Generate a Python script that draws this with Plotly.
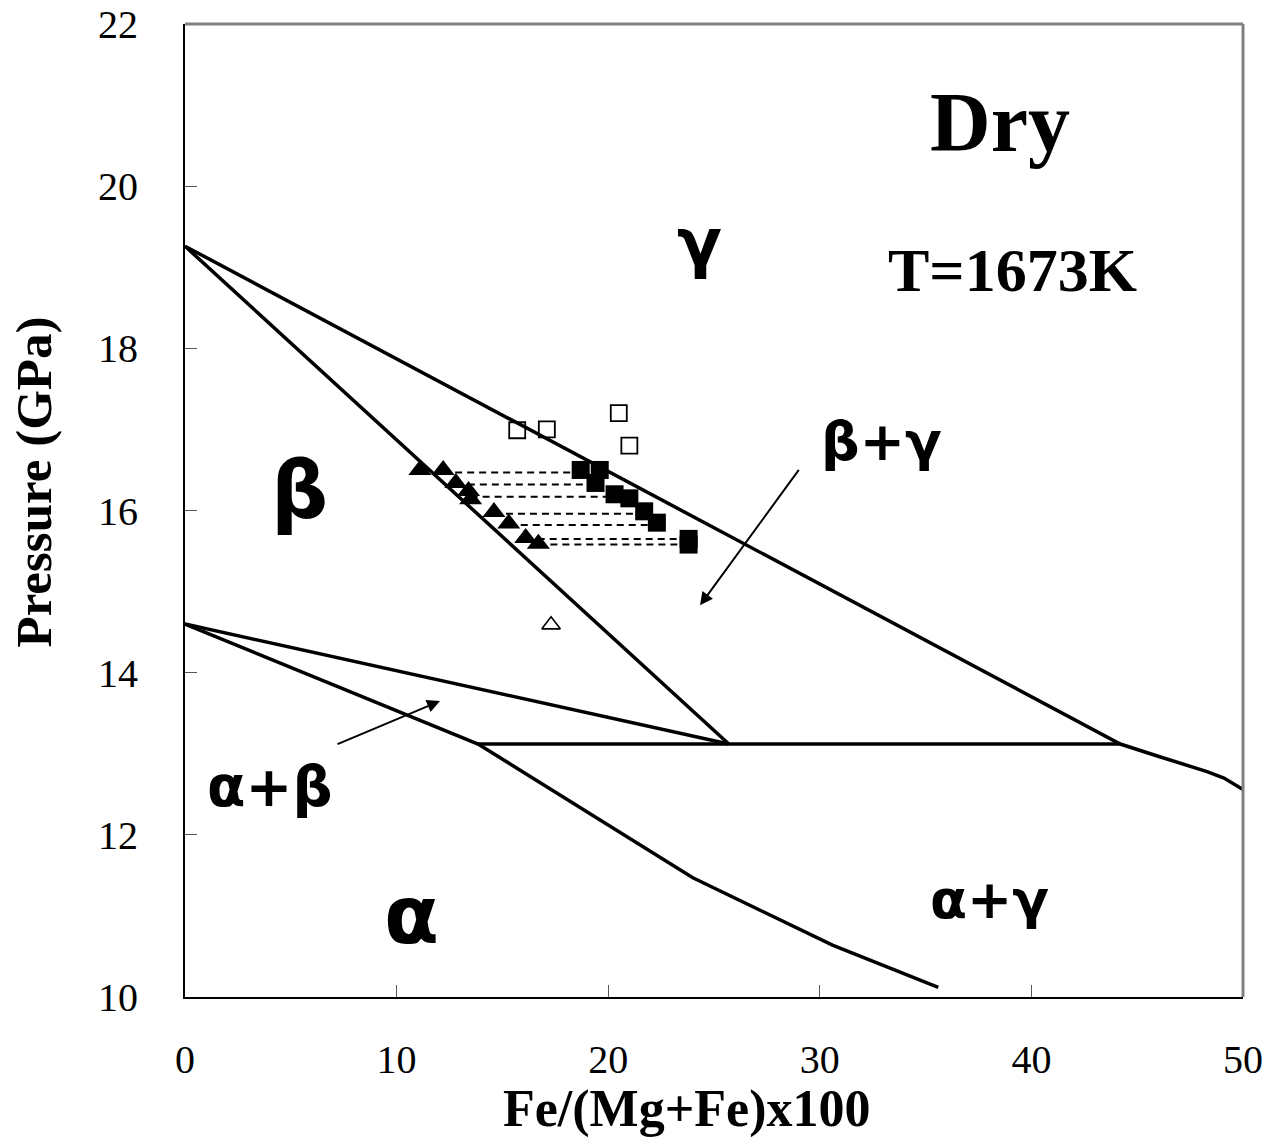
import plotly.graph_objects as go

# ---- data ----
# phase boundaries
gamma_bnd_x = [0, 44.2, 46.1, 48.3, 49.1, 50]
gamma_bnd_y = [19.26, 13.12, 12.96, 12.78, 12.70, 12.56]
beta_bnd_x = [0, 25.7]
beta_bnd_y = [19.26, 13.12]
ab_upper_x = [0, 25.7]
ab_upper_y = [14.6, 13.12]
alpha_bnd_x = [0, 13.85, 24.0, 30.6, 35.6]
alpha_bnd_y = [14.6, 13.12, 11.47, 10.64, 10.12]
invariant_x = [13.85, 44.2]
invariant_y = [13.12, 13.12]

# tie lines
tie_y = [16.47, 16.32, 16.17, 15.96, 15.82, 15.65, 15.58]
tie_tri_x = [12.2, 12.8, 13.5, 14.6, 15.3, 16.1, 16.7]
tie_sq_x = [18.7, 19.4, 20.3, 21.7, 22.3, 23.8, 23.8]

# coexisting beta (filled triangles) and gamma (filled squares)
beta_x = [11.1, 12.2, 12.8, 13.4, 13.5, 14.6, 15.3, 16.1, 16.7]
beta_y = [16.5, 16.5, 16.34, 16.24, 16.14, 15.98, 15.84, 15.66, 15.59]
gamma_x = [18.7, 19.6, 19.4, 20.3, 21.0, 21.7, 22.3, 23.8, 23.8]
gamma_y = [16.5, 16.5, 16.34, 16.2, 16.15, 15.99, 15.85, 15.65, 15.58]

# single-phase runs
gamma_only_x = [15.7, 17.1, 20.5, 21.0]
gamma_only_y = [16.99, 17.0, 17.2, 16.8]
beta_only_x = [17.3]
beta_only_y = [14.59]

x_ticks = [0, 10, 20, 30, 40, 50]
y_ticks = [10, 12, 14, 16, 18, 20, 22]

fig = go.Figure()

line_style = dict(color="black", width=3.5)
for xs, ys in [(gamma_bnd_x, gamma_bnd_y), (beta_bnd_x, beta_bnd_y),
               (ab_upper_x, ab_upper_y), (alpha_bnd_x, alpha_bnd_y),
               (invariant_x, invariant_y)]:
    fig.add_trace(go.Scatter(x=xs, y=ys, mode="lines", line=line_style,
                             showlegend=False, hoverinfo="skip"))

for tx, sx, yy in zip(tie_tri_x, tie_sq_x, tie_y):
    fig.add_trace(go.Scatter(x=[tx, sx], y=[yy, yy], mode="lines",
                             line=dict(color="black", width=2, dash="7px,5px"),
                             showlegend=False, hoverinfo="skip"))

fig.add_trace(go.Scatter(x=beta_x, y=beta_y, mode="markers",
                         marker=dict(symbol="triangle-up", size=20, color="black"),
                         showlegend=False))
fig.add_trace(go.Scatter(x=gamma_x, y=gamma_y, mode="markers",
                         marker=dict(symbol="square", size=18, color="black"),
                         showlegend=False))
fig.add_trace(go.Scatter(x=gamma_only_x, y=gamma_only_y, mode="markers",
                         marker=dict(symbol="square-open", size=16, color="black",
                                     line=dict(width=1.8)),
                         showlegend=False))
fig.add_trace(go.Scatter(x=beta_only_x, y=beta_only_y, mode="markers",
                         marker=dict(symbol="triangle-up-open", size=16, color="black",
                                     line=dict(width=1.6)),
                         showlegend=False))

serif = "Liberation Serif, Times New Roman, serif"
greek = "DejaVu Sans, sans-serif"

def label(text, x, y, size, fam, bold=False):
    t = f"<b>{text}</b>" if bold else text
    fig.add_annotation(x=x, y=y, text=t, showarrow=False,
                       font=dict(family=fam, size=size, color="black"),
                       xanchor="center", yanchor="middle")

label("Dry", 38.5, 20.79, 84, serif, True)
label("T=1673K", 39.1, 18.97, 62, serif, True)
label("γ", 24.3, 19.3, 66, greek, True)
label("β+γ", 32.9, 16.85, 54, greek, True)
label("β", 5.4, 16.25, 80, greek, True)
label("α+β", 4.0, 12.6, 56, greek, True)
label("α", 10.7, 11.0, 80, greek, True)
label("α+γ", 38.0, 11.2, 54, greek, True)

# arrows
fig.add_annotation(x=24.34, y=14.83, ax=29.06, ay=16.52, xref="x", yref="y",
                   axref="x", ayref="y", text="", showarrow=True,
                   arrowhead=2, arrowsize=1.3, arrowwidth=2, arrowcolor="black")
fig.add_annotation(x=12.05, y=13.65, ax=7.14, ay=13.11, xref="x", yref="y",
                   axref="x", ayref="y", text="", showarrow=True,
                   arrowhead=2, arrowsize=1.3, arrowwidth=2, arrowcolor="black")

# axis titles as annotations (exact placement)
fig.add_annotation(x=0.5, y=0, xref="paper", yref="paper", yshift=-112, xshift=-28,
                   text="<b>Fe/(Mg+Fe)x100</b>", showarrow=False,
                   font=dict(family=serif, size=52, color="black"),
                   xanchor="center", yanchor="middle")
fig.add_annotation(x=0, y=0.5, xref="paper", yref="paper", xshift=-152, yshift=28,
                   text="<b>Pressure (GPa)</b>", showarrow=False, textangle=-90,
                   font=dict(family=serif, size=51, color="black"),
                   xanchor="center", yanchor="middle")

# gray frame lines (top/right)
fig.add_shape(type="line", xref="paper", yref="paper", x0=0, y0=1, x1=1, y1=1,
              line=dict(color="#808080", width=3), layer="above")
fig.add_shape(type="line", xref="paper", yref="paper", x0=1, y0=0, x1=1, y1=1,
              line=dict(color="#808080", width=3), layer="above")

fig.update_layout(
    width=1275, height=1141,
    margin=dict(l=185, r=32, t=24, b=144, autoexpand=False),
    plot_bgcolor="white", paper_bgcolor="white",
    showlegend=False,
    xaxis=dict(range=[0, 50], tickvals=x_ticks, ticks="inside", ticklen=12,
               tickcolor="#555555", showline=True, linecolor="black", linewidth=2,
               showgrid=False, zeroline=False, ticklabelstandoff=26, automargin=False,
               ticklabeloverflow="allow",
               tickfont=dict(family=serif, size=40, color="black")),
    yaxis=dict(range=[10, 22], tickvals=y_ticks, ticks="inside", ticklen=12,
               tickcolor="#555555", showline=True, linecolor="black", linewidth=2,
               showgrid=False, zeroline=False, ticklabelstandoff=37, automargin=False,
               ticklabeloverflow="allow",
               tickfont=dict(family=serif, size=40, color="black")),
)

fig.write_html(
    "out.html",
    config={"displayModeBar": False},
    post_script="document.body.style.margin='0';document.body.style.padding='0';"
                "document.documentElement.style.overflow='hidden';",
)
